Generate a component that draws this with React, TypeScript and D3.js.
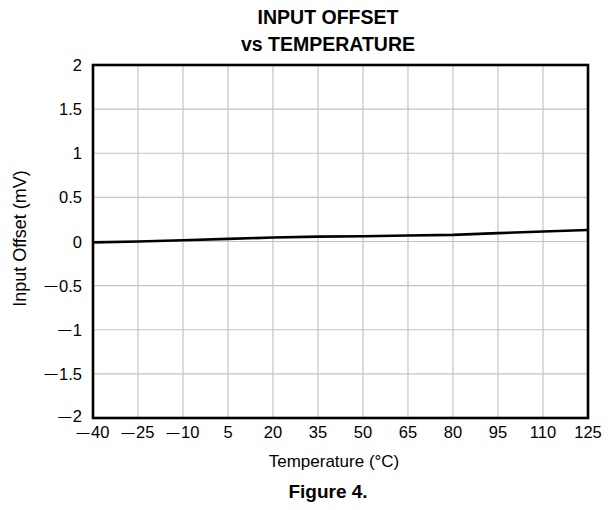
import React from "react";
import * as d3 from "d3";

const temps = [-40, -25, -10, 5, 20, 35, 50, 65, 80, 95, 110, 125];
const offsets = [-0.01, 0.0, 0.015, 0.03, 0.045, 0.055, 0.06, 0.068, 0.075, 0.095, 0.113, 0.13];
const xTicks = [-40, -25, -10, 5, 20, 35, 50, 65, 80, 95, 110, 125];
const yTicks = [-2, -1.5, -1, -0.5, 0, 0.5, 1, 1.5, 2];
const titleLines = ["INPUT OFFSET", "vs TEMPERATURE"];

const W = 613, H = 510;
const L = 93, R = 588, T = 65, B = 418;
const FONT = "'Liberation Sans', Arial, Helvetica, sans-serif";

function Num({ v }: { v: number }) {
  if (v < 0) {
    return (
      <>
        <tspan fontSize={13} dy={-1.5}>{"\u2014"}</tspan>
        <tspan dy={1.5} dx={1.5}>{String(-v)}</tspan>
      </>
    );
  }
  return <>{String(v)}</>;
}

export default function App() {
  const x = d3.scaleLinear().domain([-40, 125]).range([L, R]);
  const y = d3.scaleLinear().domain([-2, 2]).range([B, T]);
  const line = d3.line<number>().x((_, i) => x(temps[i])).y((d) => y(d));
  return (
    <svg width={W} height={H} style={{ position: "absolute", left: 0, top: 0, background: "#fff" }} fontFamily={FONT}>
      <rect width={W} height={H} fill="#fff" />
      {xTicks.slice(1, -1).map((t) => (
        <line key={"gx" + t} x1={x(t)} x2={x(t)} y1={T} y2={B} stroke="#c4c4c4" strokeWidth={1.2} />
      ))}
      {yTicks.slice(1, -1).map((t) => (
        <line key={"gy" + t} x1={L} x2={R} y1={y(t)} y2={y(t)} stroke="#c4c4c4" strokeWidth={1.2} />
      ))}
      <path d={line(offsets) || ""} fill="none" stroke="#000" strokeWidth={2.6} />
      <rect x={L} y={T} width={R - L} height={B - T} fill="none" stroke="#000" strokeWidth={2.6} />
      {xTicks.map((t) => (
        <text key={"tx" + t} x={x(t)} y={438} textAnchor="middle" fontSize={16.5}><Num v={t} /></text>
      ))}
      {yTicks.map((t) => (
        <text key={"ty" + t} x={82} y={y(t) + (t === -2 ? 4 : 6)} textAnchor="end" fontSize={16.5}><Num v={t} /></text>
      ))}
      <text x={334} y={467} textAnchor="middle" fontSize={17}>Temperature (°C)</text>
      <text transform={`translate(26,${(T + B) / 2 - 3}) rotate(-90)`} textAnchor="middle" fontSize={18}>Input Offset (mV)</text>
      {titleLines.map((s, i) => (
        <text key={s} x={328} y={24 + i * 27} textAnchor="middle" fontSize={19.5} fontWeight="bold">{s}</text>
      ))}
      <text x={328} y={498} textAnchor="middle" fontSize={19} fontWeight="bold">Figure 4.</text>
    </svg>
  );
}
